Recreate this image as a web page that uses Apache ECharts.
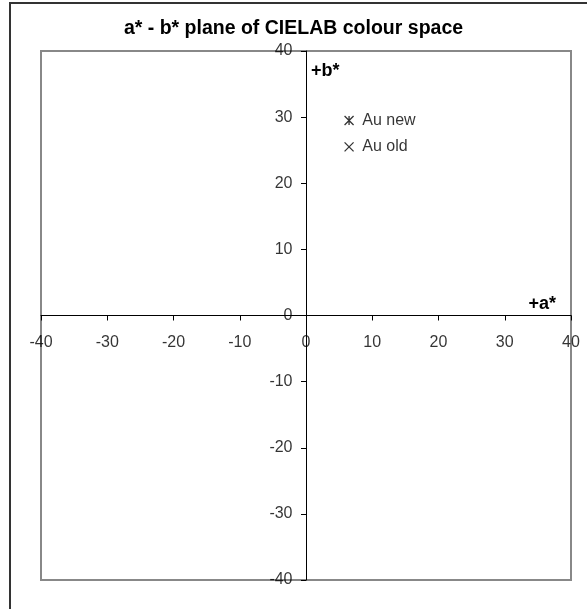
<!DOCTYPE html>
<html>
<head>
<meta charset="utf-8">
<script src="https://cdn.jsdelivr.net/npm/echarts/dist/echarts.min.js"></script>
<style>
html,body{margin:0;padding:0;background:#fff;}
#chart{width:587px;height:609px;}
</style>
</head>
<body>
<div id="chart"></div>
<script>
var titleText = 'a* - b* plane of CIELAB colour space';
var seriesNames = ['Au new', 'Au old'];
var auNew = [[6.5, 29.5]];
var auOld = [[6.5, 25.5]];
var tickValues = [-40, -30, -20, -10, 0, 10, 20, 30, 40];
var axisMin = -40, axisMax = 40, axisStep = 10;

var FONT = 'Liberation Sans, Arial, sans-serif';
var chart = echarts.init(document.getElementById('chart'));

var symNew = 'path://M0,0L10,10M10,0L0,10M5,0L5,10';
var symOld = 'path://M0,0L10,10M10,0L0,10';

function mkSeries(name, data, sym) {
  return {
    name: name,
    type: 'scatter',
    data: data,
    symbol: sym,
    symbolSize: 9,
    itemStyle: { color: 'transparent', borderColor: '#000', borderWidth: 1.3 },
    label: {
      show: true, position: 'right', distance: 8,
      formatter: name, color: '#000', fontSize: 16, fontFamily: FONT
    },
    emphasis: { disabled: true },
    silent: true,
    z: 5
  };
}

// tick labels placed at the axis crossing (through the library's scales)
function tickLabelSeries(isX) {
  return {
    type: 'scatter',
    data: tickValues.map(function (v) { return isX ? [v, 0] : [0, v]; }),
    symbol: 'circle',
    symbolSize: 1,
    itemStyle: { color: 'transparent' },
    label: {
      show: true,
      position: isX ? 'bottom' : 'left',
      distance: isX ? 19 : 13,
      formatter: function (p) { return String(isX ? p.value[0] : p.value[1]); },
      color: '#000', fontSize: 16, fontFamily: FONT
    },
    emphasis: { disabled: true },
    silent: true,
    z: 4
  };
}

chart.setOption({
  animation: false,
  backgroundColor: '#fff',
  title: {
    text: titleText, left: 'center', top: 14,
    textStyle: { fontSize: 19.5, fontWeight: 'bold', color: '#000', fontFamily: FONT }
  },
  graphic: [{
    type: 'rect', silent: true, z: 100,
    shape: { x: 10, y: 3, width: 640, height: 660 },
    style: { fill: 'none', stroke: '#333', lineWidth: 2 }
  }],
  grid: {
    left: 41, right: 16, top: 51, bottom: 29,
    show: true, borderColor: '#888', borderWidth: 2, backgroundColor: 'transparent'
  },
  xAxis: {
    type: 'value', min: axisMin, max: axisMax, interval: axisStep,
    splitLine: { show: false },
    axisLine: { onZero: true, lineStyle: { color: '#000', width: 1 } },
    axisTick: { length: 5, lineStyle: { color: '#000' } },
    axisLabel: { show: false },
    name: '+a*', nameLocation: 'end', nameGap: -15,
    nameTextStyle: { align: 'right', verticalAlign: 'bottom', fontWeight: 'bold',
      fontSize: 18, color: '#000', fontFamily: FONT, padding: [0, 0, 2, 0] }
  },
  yAxis: {
    type: 'value', min: axisMin, max: axisMax, interval: axisStep,
    splitLine: { show: false },
    axisLine: { onZero: true, lineStyle: { color: '#000', width: 1 } },
    axisTick: { length: 5, lineStyle: { color: '#000' } },
    axisLabel: { show: false },
    name: '+b*', nameLocation: 'end', nameGap: -11,
    nameTextStyle: { align: 'left', verticalAlign: 'top', fontWeight: 'bold',
      fontSize: 18, color: '#000', fontFamily: FONT, padding: [0, 0, 0, 5] }
  },
  series: [
    mkSeries(seriesNames[0], auNew, symNew),
    mkSeries(seriesNames[1], auOld, symOld),
    tickLabelSeries(true),
    tickLabelSeries(false)
  ]
});
</script>
</body>
</html>
